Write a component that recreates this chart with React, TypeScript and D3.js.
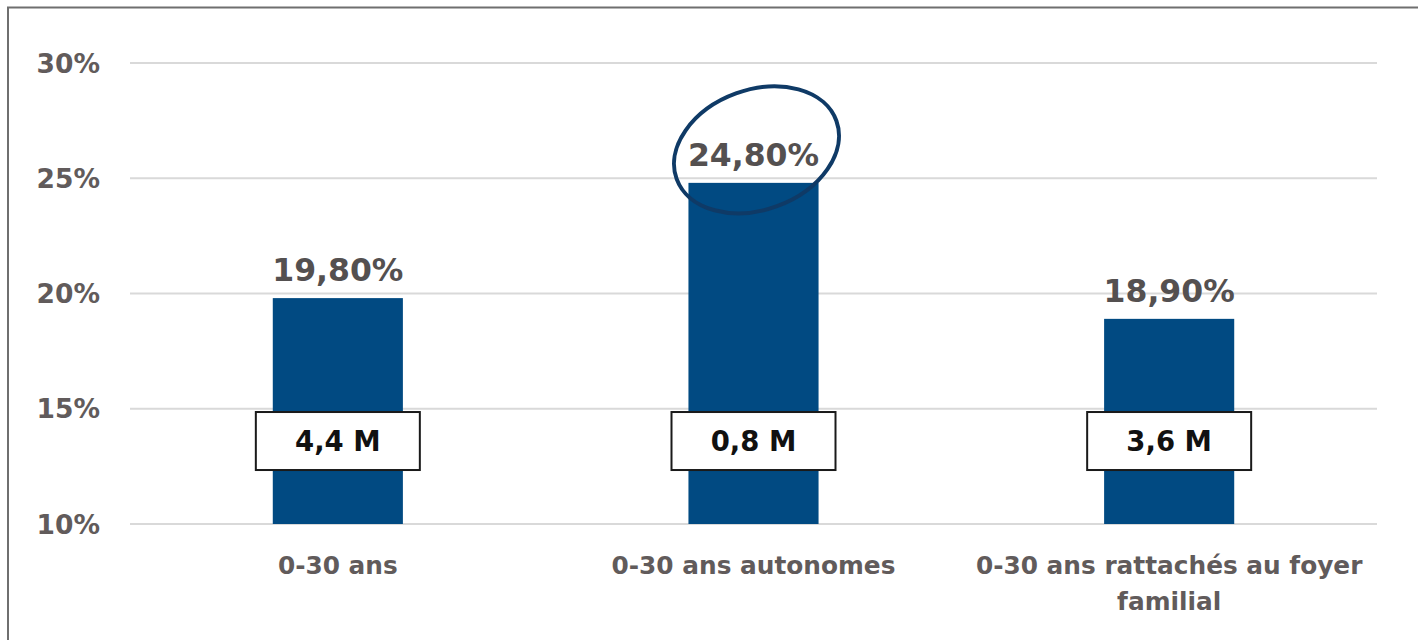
import React from "react";
import * as d3 from "d3";

const categories = ["0-30 ans", "0-30 ans autonomes", "0-30 ans rattachés au foyer familial"];
const categoryLines = [["0-30 ans"], ["0-30 ans autonomes"], ["0-30 ans rattachés au foyer", "familial"]];
const values = [19.8, 24.8, 18.9];
const valueLabels = ["19,80%", "24,80%", "18,90%"];
const populationLabels = ["4,4 M", "0,8 M", "3,6 M"];
const yTicks = [10, 15, 20, 25, 30];
const highlightIndex = 1;

const W = 1418;
const H = 640;
const FONT = "'DejaVu Sans', 'Liberation Sans', sans-serif";

export default function App() {
  const x = d3.scaleBand<string>().domain(categories).range([130, 1377]).paddingInner(0.687).paddingOuter(0.3435);
  const y = d3.scaleLinear().domain([10, 30]).range([524, 63]);
  const bw = x.bandwidth();

  return (
    <div style={{ position: "absolute", left: 0, top: 0, width: W, height: H, background: "#fff" }}>
      <svg width={W} height={H} style={{ display: "block" }}>
        <rect x={8} y={7.5} width={W + 20} height={H + 20} fill="#fff" stroke="#6f6f6f" strokeWidth={2} />
        {yTicks.map((t) => (
          <g key={t}>
            <line x1={130} x2={1377} y1={y(t)} y2={y(t)} stroke="#d9d9d9" strokeWidth={2} />
            <text x={100} y={y(t)} dy="0.36em" textAnchor="end" fontFamily={FONT} fontWeight="bold" fontSize={26.5} fill="#615b5b">
              {t}%
            </text>
          </g>
        ))}
        {categories.map((c, i) => {
          const x0 = x(c)!;
          const cx = x0 + bw / 2;
          return (
            <g key={c}>
              <rect x={x0} y={y(values[i])} width={bw} height={y(10) - y(values[i])} fill="#014a82" />
              <text x={cx} y={y(values[i]) - 17} textAnchor="middle" fontFamily={FONT} fontWeight="bold" fontSize={31.5} fill="#545050">
                {valueLabels[i]}
              </text>
              <rect x={cx - 82} y={y(13.6) - 29} width={164} height={58} fill="#fff" stroke="#1a1a1a" strokeWidth={2} />
              <text x={cx} y={y(13.6)} dy="0.36em" textAnchor="middle" fontFamily={FONT} fontWeight="bold" fontSize={27.5} fill="#111">
                {populationLabels[i]}
              </text>
              {categoryLines[i].map((ln, j) => (
                <text key={j} x={cx} y={574 + j * 36} textAnchor="middle" fontFamily={FONT} fontWeight="bold" fontSize={24.8} fill="#615b5b">
                  {ln}
                </text>
              ))}
            </g>
          );
        })}
        {(() => {
          const c = categories[highlightIndex];
          const cx = x(c)! + bw / 2 + 3;
          const cy = y(values[highlightIndex]) - 33;
          return (
            <ellipse cx={0} cy={0} rx={85} ry={60} fill="none" stroke="#0f3a66" strokeWidth={4}
              transform={`translate(${cx},${cy}) rotate(-20)`} />
          );
        })()}
      </svg>
    </div>
  );
}
